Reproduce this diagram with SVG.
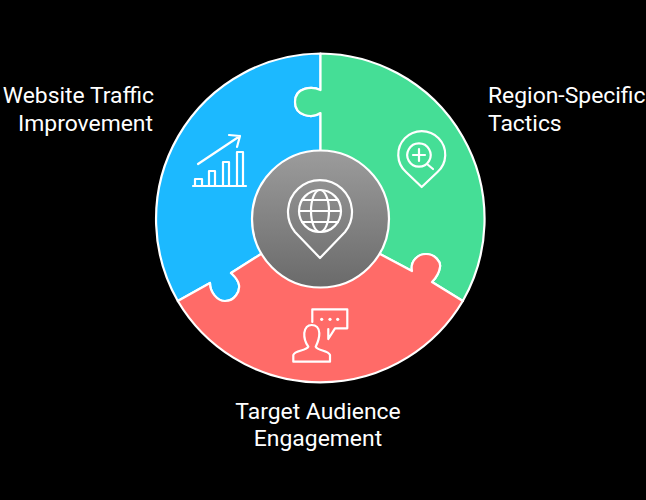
<svg xmlns="http://www.w3.org/2000/svg" width="646" height="500" viewBox="0 0 646 500">
<defs><linearGradient id="g" x1="0" y1="0" x2="0" y2="1"><stop offset="0" stop-color="#9c9c9c"/><stop offset="1" stop-color="#6a6a6a"/></linearGradient></defs>
<style>
.s{stroke:#fff;stroke-width:2.2;stroke-linejoin:round}
.i{fill:none;stroke:#fff;stroke-width:2.2;stroke-linejoin:round;stroke-linecap:round}
.d{fill:#fff}
text{font-family:Roboto,"Liberation Sans",sans-serif;font-size:22.9px;fill:#fff}
</style>
<rect width="646" height="500" fill="#000"/>
<g id="connectors"></g>
<g id="blue"><path class="s" fill="#1cb9ff" d="M320.5 53.500A165.500 165.500 0 0 0 177.800 301L210 283C210 292 217 301 225 301C235 301 240 291 239 285C238 279 234 276 231 273L261 254L320.500 150V113C312 119 295 116 295 102C295 87 312 86 320.500 90Z"/>
<path class="i" d="M193 186H246M195 186V179H202V186M209 186V171H215V186M223 186V162H229V186M237 186V152H243V186M198 164L240 136M229 135L240 136L237 147"/></g>
<g id="green"><path class="s" fill="#45de96" d="M320.500 53.500A165.500 165.500 0 0 1 462.800 301L432 282C435 279 439 274 440 267C441 262 435 254 426 254C418 254 410 261 412 271L380 254L320.500 150V113C312 119 295 116 295 102C295 87 312 86 320.500 90Z"/>
<path class="i" d="M421.700 187L406 172A23.500 23.500 0 1 1 437.500 172ZM419 143.300A11.700 11.700 0 1 1 418.900 143.300ZM427 164L433 169M413 155H425M419 149V161"/></g>
<g id="red"><path class="s" fill="#ff6b68" d="M177.800 301L210 283C210 292 217 301 225 301C235 301 240 291 239 285C238 279 234 276 231 273L261 254L320.500 240L380 254L412 271C410 261 418 254 426 254C435 254 441 262 440 267C439 274 435 279 432 282L462.800 301A165.500 165.500 0 0 1 177.800 301Z"/>
<path class="i" d="M312.300 322V309.300H347.300V328.300H335L328.300 339V329M293.300 361.700V355C295 350 306 351 308.300 346.700C305 342 304 337 304.300 333C305 328 308 325 311.700 325C316 325 319 328 319.300 333C319.500 338 318 342 315.700 346.700C318 351 328 350 330 355V361.700Z"/>
<circle class="d" cx="321.700" cy="319.300" r="1.600"/><circle class="d" cx="330" cy="319.300" r="1.600"/><circle class="d" cx="337.700" cy="319.300" r="1.600"/></g>
<g id="center"><circle class="s" cx="320.500" cy="219" r="68.500" fill="url(#g)"/>
<path class="i" d="M320 258L295 232A32 32 0 1 1 345 232Z"/><circle class="i" cx="320" cy="211" r="21"/><ellipse class="i" cx="320" cy="211" rx="9" ry="21"/><path class="i" d="M299 211H341M302 200H338M302 222H338"/></g>
<g id="labels">
<text x="154" y="103" text-anchor="end">Website Traffic</text>
<text x="153" y="131" text-anchor="end">Improvement</text>
<text x="488" y="103">Region-Specific</text>
<text x="488" y="131">Tactics</text>
<text x="318" y="419" text-anchor="middle">Target Audience</text>
<text x="318" y="446" text-anchor="middle">Engagement</text>
</g>
</svg>
